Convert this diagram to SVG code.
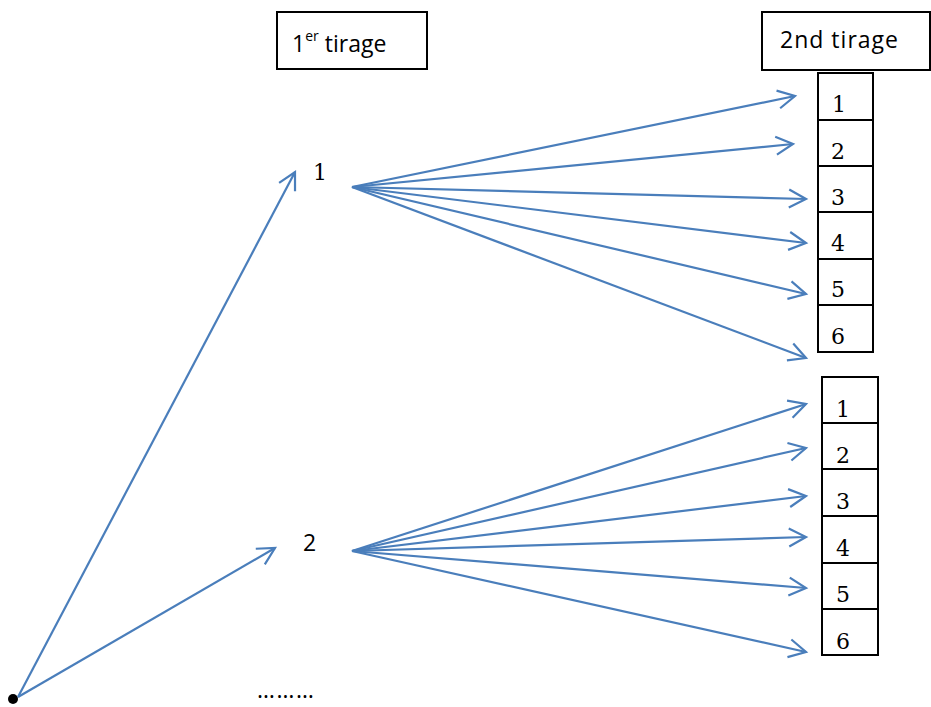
<svg xmlns="http://www.w3.org/2000/svg" width="931" height="707" viewBox="0 0 931 707">
<style>
.box{fill:#fff;stroke:#000;stroke-width:2}
.cell{fill:#fff;stroke:#000;stroke-width:2}
.sans{font-family:"Open Sans","Liberation Sans",sans-serif;font-size:23px;fill:#000}
.serif{font-family:"DejaVu Serif","Liberation Serif",serif;font-size:22px;fill:#000}
.conn line{stroke:#4a7ebb;stroke-width:2.2;marker-end:url(#ah)}
</style>
<defs>
<marker id="ah" markerUnits="userSpaceOnUse" markerWidth="24" markerHeight="24" refX="20" refY="12" orient="auto" viewBox="0 0 24 24">
<path d="M3,3 L20,12 L3,21" fill="none" stroke="#4a7ebb" stroke-width="2.2"/>
</marker>
</defs>
<rect width="931" height="707" fill="#fff"/>
<g id="header1">
<rect class="box" x="277" y="12" width="150" height="57"/>
<text class="sans" x="292" y="52">1<tspan font-size="14" dy="-11">er</tspan><tspan dy="11"> tirage</tspan></text>
</g>
<g id="header2">
<rect class="box" x="762" y="12" width="168" height="58"/>
<text class="sans" x="780" y="48" textLength="118">2nd tirage</text>
</g>
<g id="col1">
<rect class="cell" x="818" y="73" width="55" height="47"/>
<rect class="cell" x="818" y="120" width="55" height="46"/>
<rect class="cell" x="818" y="166" width="55" height="46"/>
<rect class="cell" x="818" y="212" width="55" height="47"/>
<rect class="cell" x="818" y="259" width="55" height="46"/>
<rect class="cell" x="818" y="305" width="55" height="47"/>
<text class="serif" x="832" y="112">1</text>
<text class="serif" x="831" y="159">2</text>
<text class="serif" x="831" y="205">3</text>
<text class="serif" x="831" y="251">4</text>
<text class="serif" x="831" y="297">5</text>
<text class="serif" x="831" y="344">6</text>
</g>
<g id="col2">
<rect class="cell" x="822" y="377" width="56" height="46"/>
<rect class="cell" x="822" y="423" width="56" height="46"/>
<rect class="cell" x="822" y="469" width="56" height="47"/>
<rect class="cell" x="822" y="516" width="56" height="47"/>
<rect class="cell" x="822" y="563" width="56" height="46"/>
<rect class="cell" x="822" y="609" width="56" height="46"/>
<text class="serif" x="836" y="417">1</text>
<text class="serif" x="836" y="463">2</text>
<text class="serif" x="836" y="509">3</text>
<text class="serif" x="836" y="556">4</text>
<text class="serif" x="836" y="602">5</text>
<text class="serif" x="836" y="649">6</text>
</g>
<g id="node1"><text class="serif" x="313" y="180">1</text></g>
<g id="node2"><text class="sans" x="303" y="551">2</text></g>
<g id="root"><circle cx="13" cy="699" r="5" fill="#000"/></g>
<g id="ellipsis"><text class="sans" x="257" y="698" font-size="14" textLength="57">………</text></g>
<g class="conn" id="connectors">
<line x1="18" y1="697" x2="295" y2="172"/>
<line x1="18" y1="697" x2="275" y2="548"/>
<line x1="352" y1="187" x2="795" y2="96"/>
<line x1="352" y1="187" x2="793" y2="144"/>
<line x1="352" y1="187" x2="806" y2="199"/>
<line x1="352" y1="187" x2="806" y2="243"/>
<line x1="352" y1="187" x2="806" y2="294"/>
<line x1="352" y1="187" x2="806" y2="358"/>
<line x1="352" y1="551" x2="806" y2="404"/>
<line x1="352" y1="551" x2="806" y2="448"/>
<line x1="352" y1="551" x2="806" y2="496"/>
<line x1="352" y1="551" x2="806" y2="537"/>
<line x1="352" y1="551" x2="806" y2="588"/>
<line x1="352" y1="551" x2="806" y2="652"/>
</g>
</svg>
